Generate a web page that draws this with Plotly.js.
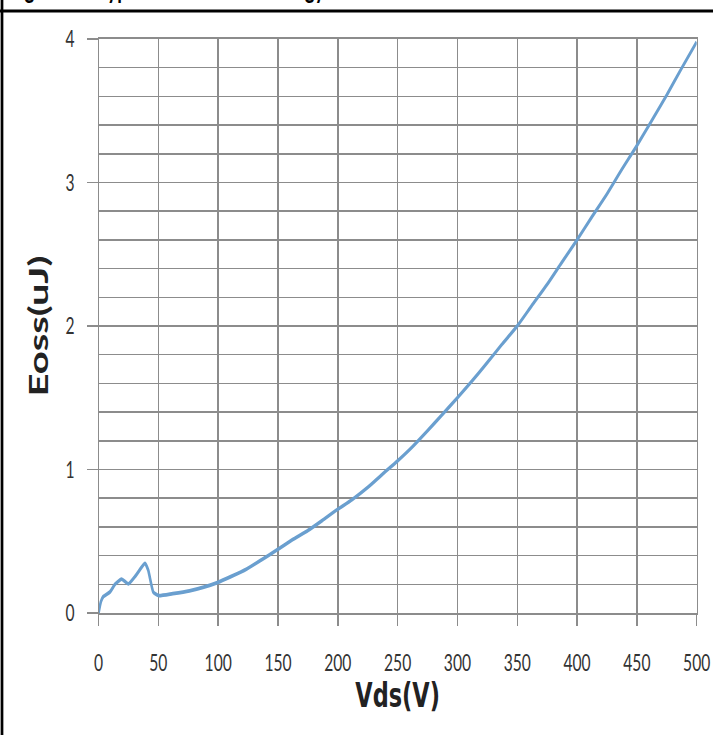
<!DOCTYPE html>
<html>
<head>
<meta charset="utf-8">
<script src="https://cdn.plot.ly/plotly-3.0.1.min.js"></script>
<style>
html,body{margin:0;padding:0;overflow:hidden;background:#fff;width:713px;height:735px}
#wrap{width:713px;height:735px;overflow:hidden;position:relative;background:#fff}
#chart{width:1049px;height:735px;transform:scaleX(0.679695);transform-origin:0 0;}
</style>
</head>
<body>
<div id="wrap"><div id="chart"></div></div>
<script>
// Data
const vds  = [0, 2, 4, 9.6, 13.75, 19.3, 24.9, 31, 38.75, 41.5, 45.7, 50, 62, 76, 88, 99.3, 111, 123.5, 136, 149.3, 162, 175, 187, 198.5, 212, 225, 237, 250, 262, 275, 287, 300, 312, 325, 337, 350, 362, 375, 387, 400, 412, 425, 437, 450, 462, 475, 487, 500];
const eoss = [0, 0.08, 0.115, 0.147, 0.2, 0.236, 0.203, 0.26, 0.345, 0.298, 0.147, 0.122, 0.135, 0.154, 0.18, 0.212, 0.255, 0.305, 0.37, 0.44, 0.51, 0.575, 0.645, 0.715, 0.79, 0.875, 0.965, 1.06, 1.155, 1.27, 1.38, 1.5, 1.615, 1.745, 1.87, 2.0, 2.14, 2.29, 2.44, 2.6, 2.755, 2.92, 3.085, 3.257, 3.425, 3.61, 3.79, 3.98];
const xTickVals = [0, 50, 100, 150, 200, 250, 300, 350, 400, 450, 500];
const yTickVals = [0, 1, 2, 3, 4];
const xTitle = 'Vds(V)';
const yTitle = 'Eoss(uJ)';
const headText = 'Figure 12. Typical Coss Stored Energy';

const S = 713 / 1049;          // horizontal squeeze of the reference
const W = 1049, H = 735;
const M = {l: 145, r: 24, t: 39, b: 122};
const pw = W - M.l - M.r, ph = H - M.t - M.b;
const px2x = px => (px / S - M.l) / pw;   // image pixel -> paper x
const py2y = py => (H - M.b - py) / ph;   // image pixel -> paper y

const grid = '#8c8c8c';
const font = 'Lato, "Open Sans", sans-serif';

const trace = {
  x: vds, y: eoss, type: 'scatter', mode: 'lines',
  line: {color: '#6a9fcf', width: 3.8, shape: 'spline', smoothing: 0.5},
  hoverinfo: 'x+y'
};

const layout = {
  width: W, height: H,
  margin: M,
  paper_bgcolor: '#fff', plot_bgcolor: '#fff',
  showlegend: false,
  font: {family: font, color: '#333'},
  xaxis: {
    range: [0, 500], tickvals: xTickVals, ticktext: xTickVals.map(String),
    showgrid: true, gridcolor: grid, gridwidth: 2.2,
    showline: true, linecolor: grid, linewidth: 2.2, mirror: true,
    ticks: 'outside', ticklen: 11, tickwidth: 2.2, tickcolor: grid,
    zeroline: false, fixedrange: true,
    tickfont: {family: font, size: 23, color: '#333'},
    ticklabelstandoff: 17,
    title: {text: xTitle, standoff: 0, font: {family: '"DejaVu Sans", sans-serif', size: 33, weight: 'bold', color: '#222'}}
  },
  yaxis: {
    range: [0, 4], tickvals: yTickVals, ticktext: yTickVals.map(String),
    showgrid: true, gridcolor: grid, gridwidth: 1.5,
    minor: {dtick: 0.2, showgrid: true, gridcolor: grid, gridwidth: 1.5, ticks: ''},
    showline: true, linecolor: grid, linewidth: 1.5, mirror: true,
    ticks: 'outside', ticklen: 15, tickwidth: 1.5, tickcolor: grid,
    zeroline: false, fixedrange: true,
    tickfont: {family: font, size: 23, color: '#333'},
    ticklabelstandoff: 14,
    title: {text: yTitle, standoff: 12, font: {family: font, size: 40, weight: 'bold', color: '#222'}}
  },
  shapes: [
    {type: 'line', xref: 'paper', yref: 'paper', x0: px2x(2), x1: px2x(2), y0: py2y(740), y1: py2y(-5), line: {color: '#000', width: 4}},
    {type: 'line', xref: 'paper', yref: 'paper', x0: px2x(0), x1: px2x(720), y0: py2y(11), y1: py2y(11), line: {color: '#000', width: 3}}
  ],
  annotations: [
    {text: '<b>' + headText + '</b>', xref: 'paper', yref: 'paper', x: px2x(8), y: py2y(5),
     xanchor: 'left', yanchor: 'bottom', showarrow: false, borderpad: 0,
     font: {family: font, size: 28, color: '#000'}}
  ]
};

Plotly.newPlot('chart', [trace], layout, {displayModeBar: false, staticPlot: true});
</script>
</body>
</html>
